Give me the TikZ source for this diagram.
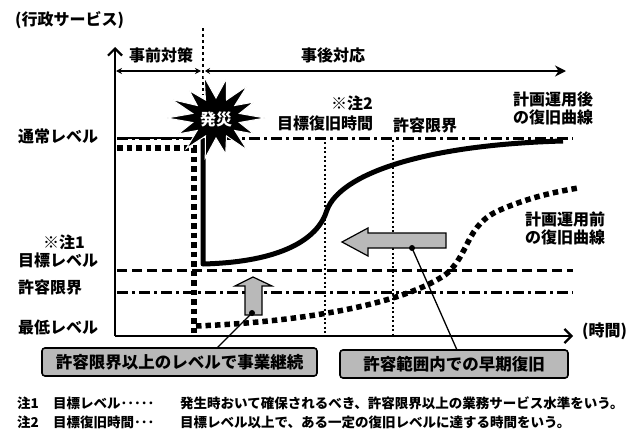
\documentclass[tikz,border=0pt]{standalone}
\usepackage{fontspec}
\setmainfont{Noto Sans CJK JP}
\usetikzlibrary{arrows.meta}
\begin{document}
\begin{tikzpicture}[x=1pt,y=-1pt,
  lbl/.style={font=\fontsize{16}{18}\selectfont\bfseries,inner sep=0pt},
  lblw/.style={lbl,anchor=west},
  note/.style={font=\fontsize{13.5}{15}\selectfont\bfseries,inner sep=0pt,anchor=west},
  callbox/.style={draw=black,line width=1.6pt,rounded corners=3pt,fill=gray!55,minimum width=#1,minimum height=28pt,inner sep=0pt,font=\fontsize{16.5}{18}\selectfont\bfseries},
  axisline/.style={line width=2.2pt,-{Straight Barb[length=7pt,width=14pt]}},
  sqdot/.style={line width=5.5pt,dash pattern=on 5.5pt off 4pt},
  smalldot/.style={line width=1.8pt,dash pattern=on 2pt off 2.5pt},
  dashdot/.style={line width=3pt,dash pattern=on 11pt off 4pt on 3pt off 4pt},
  dashline/.style={line width=3pt,dash pattern=on 10pt off 5pt},
  grayarrow/.style={fill=gray!55,draw=black,line width=1.2pt},
  dotnode/.style={circle,fill=black,inner sep=0pt,minimum size=6pt},
  leader/.style={line width=1.3pt}
]
\useasboundingbox (0,0) rectangle (640,431);

% axes
\coordinate (O) at (115,336);
\coordinate (ytop) at (115,47);
\coordinate (xend) at (573,336);
\draw[axisline] (O) -- (ytop);
\draw[axisline] (O) -- (xend);

% timeline arrows
\coordinate (t1a) at (116,71);
\coordinate (t1b) at (201,71);
\coordinate (t2a) at (205,71);
\coordinate (t2b) at (566,71);
\draw[line width=2.2pt,{Stealth[length=6pt,width=6pt]}-{Stealth[length=6pt,width=6pt]}] (t1a) -- (t1b);
\draw[line width=2.2pt,{Stealth[length=5pt,width=6pt]}-{Stealth[length=11pt,width=11pt]}] (t2a) -- (t2b);
\node[lbl] (pre) at (161,55) {事前対策};
\node[lbl] (post) at (333,55) {事後対応};

% vertical dotted line at disaster time (top)
\draw[line width=2.4pt,dash pattern=on 3pt off 3pt] (203,28) -- (203,95);

% level lines
\draw[dashdot] (117,138) -- (573,138);
\draw[dashline] (117,270) -- (573,270);
\draw[dashdot] (117,292) -- (573,292);

% vertical small dotted lines
\draw[smalldot] (325,142) -- (325,335);
\draw[smalldot] (393,140) -- (393,335);

% pre-plan recovery curve (square dots)
\draw[sqdot] (117,148) -- (194,148) -- (194,333);
\draw[sqdot] (196,326) .. controls (300,322) and (400,305) .. (445,275)
  .. controls (470,255) and (465,225) .. (500,210)
  .. controls (530,197) and (555,192) .. (578,188);

% post-plan recovery curve (solid)
\draw[line width=2.5pt] (117,138) -- (203,138);
\draw[line width=5pt,line join=round] (203,138) -- (203,264)
  .. controls (280,262) and (318,240) .. (327,210)
  .. controls (340,175) and (420,145) .. (563,141);

% starburst
\fill[black,draw=white,line width=1pt]
  (265,118) -- (239.4,113.5) -- (253.7,102.1) -- (234.8,105.5) -- (247.2,85.9)
  -- (226.5,100) -- (226.3,79) -- (216,98) -- (204.2,77) -- (205.5,100)
  -- (189.3,90.6) -- (197.2,105.5) -- (171.9,99.5) -- (192.6,113.5)
  -- (167,118) -- (192.6,122.5) -- (178.3,133.9) -- (197.2,130.5)
  -- (186.3,148.5) -- (205.5,136) -- (205.2,158) -- (216,138)
  -- (225.7,154) -- (226.5,136) -- (247.2,150.1) -- (234.8,130.5)
  -- (253.7,133.9) -- (239.4,122.5) -- cycle;
\node[lbl,text=white] (hassai) at (216,119) {発災};

% gray arrows
\draw[grayarrow] (245,315) -- (245,286) -- (235,286) -- (253,277) -- (272,286)
  -- (262,286) -- (262,315) -- cycle;
\draw[grayarrow] (446,233) -- (368,233) -- (368,228) -- (342,242) -- (368,256)
  -- (368,248) -- (446,248) -- cycle;
\node[dotnode] (d1) at (252,313) {};
\node[dotnode] (d2) at (412,248) {};

% boxes
\node[callbox=275pt] (b1) at (179.5,362) {許容限界以上のレベルで事業継続};
\node[callbox=228pt] (b2) at (454,364) {許容範囲内での早期復旧};
\coordinate (c1) at (217,348);
\coordinate (c2) at (457,350);
\draw[leader] (d1.center) -- (c1);
\draw[leader] (d2.center) -- (c2);

% left labels
\node[lblw] (svc) at (15,20) {(行政サービス)};
\node[lblw] (normal) at (18,136) {通常レベル};
\node[lbl] (n1) at (64,242) {※注1};
\node[lblw] (target) at (18,260) {目標レベル};
\node[lblw] (allow) at (18,287) {許容限界};
\node[lblw] (minlv) at (18,327) {最低レベル};
\node[lblw] (time) at (582,331) {(時間)};

% middle labels
\node[lbl] (n2) at (352,103) {※注2};
\node[lbl] (ttime) at (325,123) {目標復旧時間};
\node[lbl] (allow2) at (425,125) {許容限界};
\node[lblw,align=left] (after) at (513,108) {計画運用後\\の復旧曲線};
\node[lblw,align=left] (before) at (525,228) {計画運用前\\の復旧曲線};

% notes
\node[note] (nt1a) at (17,403) {注1};
\node[note] (nt1b) at (53,403) {目標レベル･････};
\node[note] (nt1c) at (180,403) {発生時おいて確保されるべき、許容限界以上の業務サービス水準をいう。};
\node[note] (nt2a) at (17,422) {注2};
\node[note] (nt2b) at (53,422) {目標復旧時間･･･};
\node[note] (nt2c) at (180,422) {目標レベル以上で、ある一定の復旧レベルに達する時間をいう。};
\end{tikzpicture}
\end{document}
